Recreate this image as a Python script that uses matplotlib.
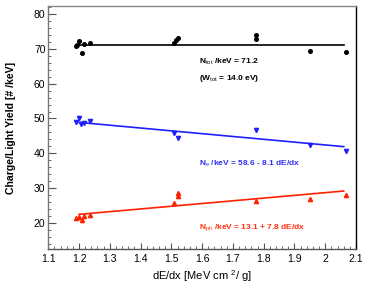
import numpy as np
import matplotlib
matplotlib.use("Agg")
import matplotlib.pyplot as plt
from matplotlib.ticker import MultipleLocator

plt.rcParams['font.family'] = ['Liberation Sans', 'DejaVu Sans']
plt.rcParams['mathtext.fontset'] = 'custom'
plt.rcParams['mathtext.rm'] = 'Liberation Sans'
plt.rcParams['mathtext.it'] = 'Liberation Sans'
plt.rcParams['mathtext.bf'] = 'Liberation Sans:bold'

# Data
x_tot = [1.191, 1.195, 1.200, 1.210, 1.217, 1.236, 1.510, 1.514, 1.520, 1.775, 1.775, 1.950, 2.066]
y_tot = [70.7, 71.0, 72.3, 68.8, 71.4, 71.6, 71.8, 72.4, 73.0, 73.9, 72.8, 69.3, 69.0]

x_e = [1.191, 1.200, 1.205, 1.215, 1.236, 1.510, 1.520, 1.775, 1.950, 2.066]
y_e = [49.1, 50.0, 48.4, 48.8, 49.3, 45.9, 44.5, 46.7, 42.4, 40.7]

x_ph = [1.191, 1.200, 1.210, 1.217, 1.236, 1.510, 1.520, 1.520, 1.775, 1.950, 2.066]
y_ph = [21.3, 21.7, 20.8, 21.9, 22.2, 25.8, 28.5, 27.7, 26.3, 26.9, 28.1]

fit_x = [1.20, 2.06]
tot_const = 71.2
e_a, e_b = 58.6, -8.1
ph_a, ph_b = 13.1, 7.8

fig = plt.figure(figsize=(3.74, 2.87), dpi=100)
ax = fig.add_axes([0.129, 0.131, 0.823, 0.848])

blue = '#1f1fff'
red = '#ff2200'

fx = np.array(fit_x)
ax.plot(fx, [tot_const, tot_const], color='black', lw=1.2, zorder=2)
ax.plot(fx, e_a + e_b * fx, color=blue, lw=1.2, zorder=2)
ax.plot(fx, ph_a + ph_b * fx, color=red, lw=1.2, zorder=2)

ax.plot(x_tot, y_tot, 'o', color='black', ms=2.6, zorder=3)
ax.errorbar(x_e, y_e, yerr=0.5, fmt='v', color=blue, ms=3.0, elinewidth=0.8, capsize=0, zorder=3)
ax.errorbar(x_ph, y_ph, yerr=0.5, fmt='^', color=red, ms=3.0, elinewidth=0.8, capsize=0, zorder=3)

ax.set_xlim(1.1, 2.1)
ax.set_ylim(12.4, 82.3)

ax.xaxis.set_minor_locator(MultipleLocator(0.02))
ax.yaxis.set_minor_locator(MultipleLocator(2))
ax.set_yticks([20, 30, 40, 50, 60, 70, 80])
ax.set_xticks(np.round(np.arange(1.1, 2.11, 0.1), 1))
ax.set_xticklabels(['1.1', '1.2', '1.3', '1.4', '1.5', '1.6', '1.7', '1.8', '1.9', '2', '2.1'])

ax.tick_params(which='both', direction='in', top=False, right=False, labelsize=7.5, color='#555555')
ax.tick_params(axis='x', pad=3.5)
ax.tick_params(axis='y', pad=2)
ax.tick_params(which='major', axis='y', length=5.5, width=0.8)
ax.tick_params(which='minor', axis='y', length=2.5, width=0.6)
ax.tick_params(which='major', axis='x', length=4.5, width=0.8)
ax.tick_params(which='minor', axis='x', length=2.2, width=0.6)

ax.spines['left'].set_color('#777777')
ax.spines['top'].set_color('#888888')
ax.spines['right'].set_color('black')
ax.spines['bottom'].set_color('#555555')
for s in ax.spines.values():
    s.set_linewidth(1.0)

ax.set_ylabel('Charge/Light Yield [# /keV]', fontsize=7.6, fontweight='bold', labelpad=13)
ax.set_xlabel(r'dE/dx [MeV cm $^{2}$/ g]', fontsize=8, labelpad=3)

ax.text(1.589, 66.3, r'N$_{\mathrm{tot}}$ /keV = 71.2', fontsize=6, fontweight='bold', color='black', va='center')
ax.text(1.589, 61.6, r'(W$_{\mathrm{tot}}$ = 14.0 eV)', fontsize=6, fontweight='bold', color='black', va='center')
ax.text(1.589, 36.9, r'N$_{\mathrm{e}}$ /keV = 58.6 - 8.1 dE/dx', fontsize=6, fontweight='bold', color='#3333ee', va='center')
ax.text(1.589, 18.7, r'N$_{\mathrm{ph}}$ /keV = 13.1 + 7.8 dE/dx', fontsize=6, fontweight='bold', color='#ff3311', va='center')

fig.savefig('out.png', dpi=100)
